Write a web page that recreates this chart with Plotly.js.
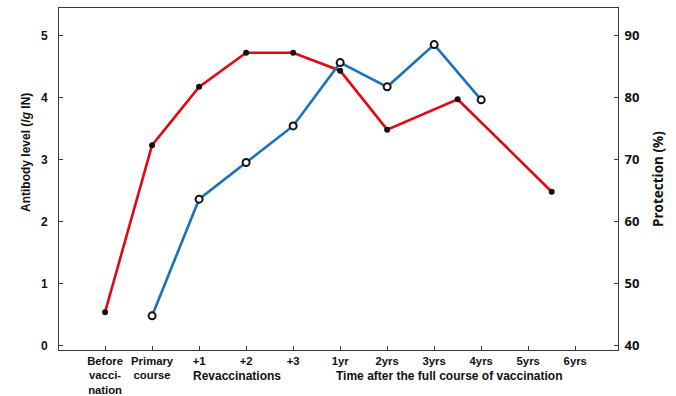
<!DOCTYPE html>
<html>
<head>
<meta charset="utf-8">
<script src="https://cdn.plot.ly/plotly-3.0.1.min.js"></script>
<style>html,body{margin:0;padding:0;background:#fff;}#chart{width:676px;height:396px;}</style>
</head>
<body>
<div id="chart"></div>
<script>
// Tick labels along the time axis
const tickLabels = ["Before<br>vacci-<br>nation", "Primary<br>course", "+1", "+2", "+3", "1yr", "2yrs", "3yrs", "4yrs", "5yrs", "6yrs"];
const tickPositions = [0, 1, 2, 3, 4, 5, 6, 7, 8, 9, 10];

// Red series: antibody level (lg IN), left axis
const redX = [0, 1, 2, 3, 4, 5, 6, 7.5, 9.5];
const redY = [0.54, 3.23, 4.17, 4.72, 4.72, 4.43, 3.48, 3.97, 2.48];

// Blue series: protection (%), right axis
const blueX = [1, 2, 3, 4, 5, 6, 7, 8];
const blueY = [44.8, 63.6, 69.5, 75.4, 85.6, 81.7, 88.5, 79.6];

const lineDark = "#3a3a3a";
const arialBold = "Liberation Sans, Arial, sans-serif";
const openSans = "Open Sans, sans-serif";

const traces = [
  {
    x: redX, y: redY, type: "scatter", mode: "lines+markers", yaxis: "y",
    line: {color: "#e30613", width: 2.6},
    marker: {color: "#111", size: 6},
    showlegend: false, cliponaxis: false
  },
  {
    x: blueX, y: blueY, type: "scatter", mode: "lines+markers", yaxis: "y2",
    line: {color: "#1c72b8", width: 2.6},
    marker: {color: "#fff", size: 7, line: {color: "#111", width: 2}},
    showlegend: false, cliponaxis: false
  }
];

const ML = 59, MR = 58, MT = 8, MB = 46;
const plotW = 676 - ML - MR;
const plotH = 396 - MT - MB;
const px = x => (x - ML) / plotW;
const py = y => (396 - MB - y) / plotH;

const layout = {
  width: 676, height: 396,
  margin: {l: ML, r: MR, t: MT, b: MB},
  paper_bgcolor: "#fff", plot_bgcolor: "#fff",
  font: {family: arialBold, size: 12, color: "#111"},
  xaxis: {
    range: [-0.98, 10.91],
    tickvals: tickPositions, ticktext: tickLabels,
    ticks: "inside", ticklen: 4, tickwidth: 1, tickcolor: lineDark,
    showline: true, linecolor: lineDark, linewidth: 1, mirror: true,
    showgrid: false, zeroline: false,
    tickfont: {family: arialBold, size: 11.3, color: "#111", weight: "bold"}
  },
  yaxis: {
    range: [-0.07, 5.44],
    tickvals: [0, 1, 2, 3, 4, 5],
    ticks: "inside", ticklen: 4, tickwidth: 1, tickcolor: lineDark,
    ticklabelstandoff: 8,
    showline: true, linecolor: lineDark, linewidth: 1,
    showgrid: false, zeroline: false,
    tickfont: {family: arialBold, size: 12, color: "#111", weight: "bold"}
  },
  yaxis2: {
    range: [39.3, 94.4], overlaying: "y", side: "right",
    tickvals: [40, 50, 60, 70, 80, 90],
    ticks: "inside", ticklen: 4, tickwidth: 1, tickcolor: lineDark,
    ticklabelstandoff: 3,
    showline: true, linecolor: lineDark, linewidth: 1,
    showgrid: false, zeroline: false,
    tickfont: {family: openSans, size: 13, color: "#111", weight: "bold"}
  },
  annotations: [
    {text: "Antibody level (<i>lg</i> IN)", xref: "paper", yref: "paper", x: px(26), y: py(153),
     xanchor: "center", yanchor: "middle", textangle: -90, showarrow: false,
     font: {family: arialBold, size: 12, color: "#111", weight: "bold"}},
    {text: "Protection (%)", xref: "paper", yref: "paper", x: px(658), y: py(179),
     xanchor: "center", yanchor: "middle", textangle: -90, showarrow: false,
     font: {family: openSans, size: 13.5, color: "#111", weight: "bold"}},
    {text: "Revaccinations", xref: "paper", yref: "paper", x: px(237), y: py(367),
     xanchor: "center", yanchor: "top", showarrow: false,
     font: {family: arialBold, size: 12, color: "#111", weight: "bold"}},
    {text: "Time after the full course of vaccination", xref: "paper", yref: "paper", x: px(449), y: py(367),
     xanchor: "center", yanchor: "top", showarrow: false,
     font: {family: arialBold, size: 12, color: "#111", weight: "bold"}}
  ]
};

Plotly.newPlot("chart", traces, layout, {displayModeBar: false, staticPlot: true});
</script>
</body>
</html>
